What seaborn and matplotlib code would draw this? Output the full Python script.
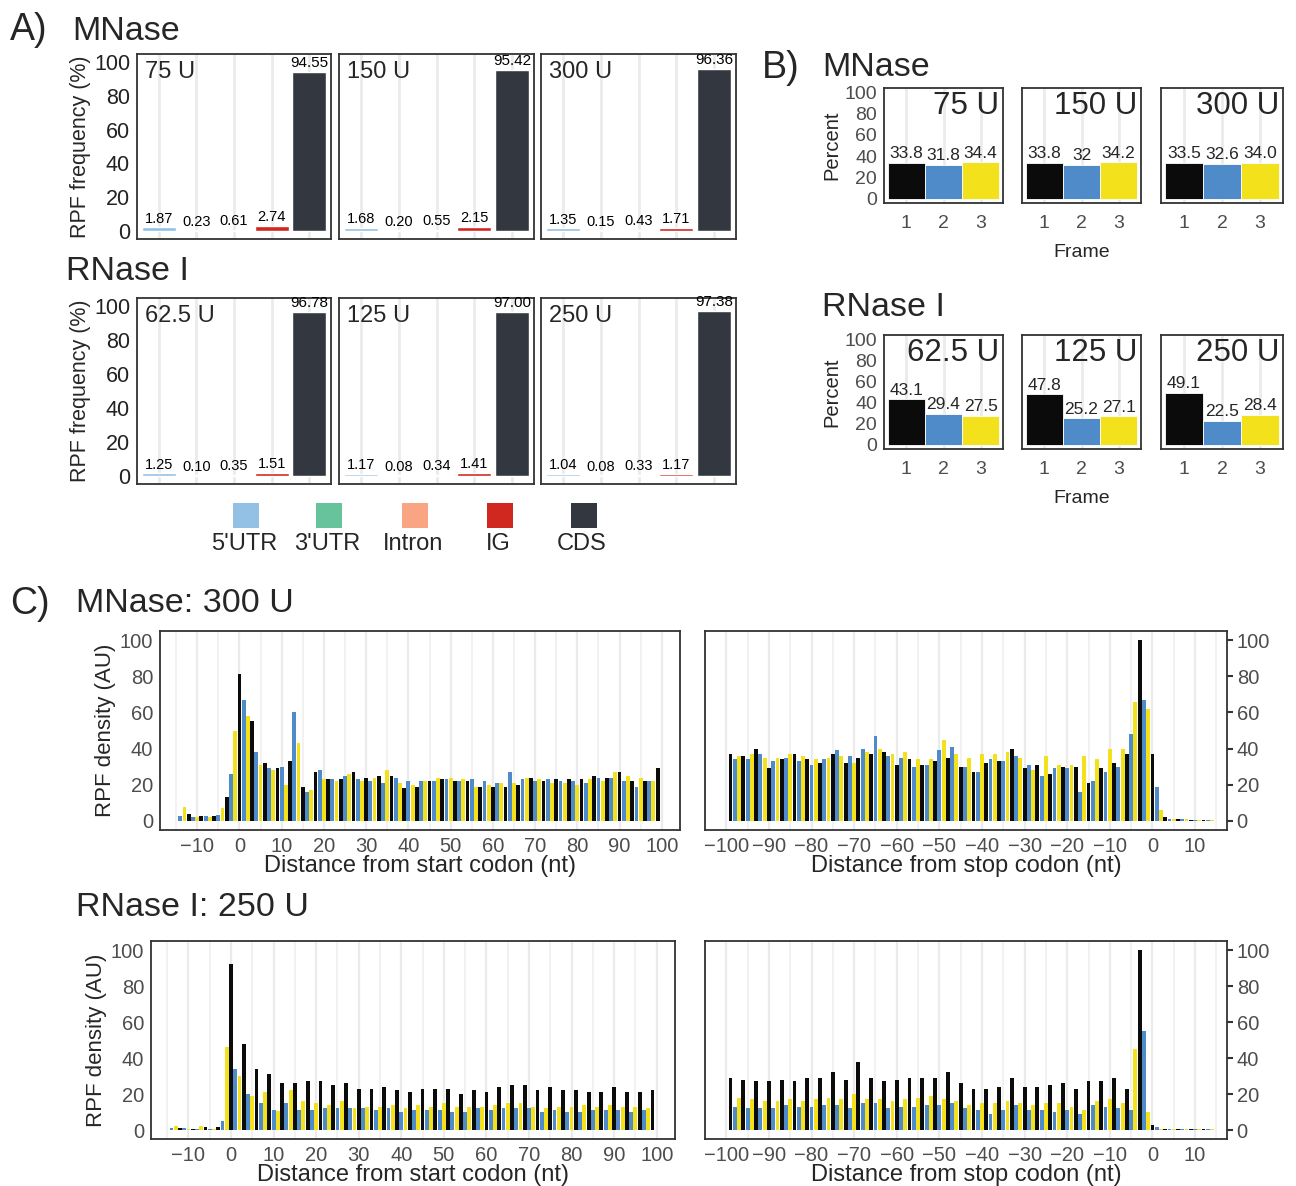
import seaborn as sns
import matplotlib.pyplot as plt
import numpy as np

sns.set_theme(style='white')
plt.rcParams['font.family'] = ['Liberation Sans', 'DejaVu Sans']

W, H = 1296, 1186

# A) read distribution by region (%)
regions = ["5'UTR", "3'UTR", 'Intron', 'IG', 'CDS']
region_colors = ['#93c0e5', '#66c39b', '#f9a583', '#d0271f', '#333740']
mnase_units = ['75 U', '150 U', '300 U']
rnase_units = ['62.5 U', '125 U', '250 U']
mnase_region = [[1.87, 0.23, 0.61, 2.74, 94.55],
                [1.68, 0.20, 0.55, 2.15, 95.42],
                [1.35, 0.15, 0.43, 1.71, 96.36]]
rnase_region = [[1.25, 0.10, 0.35, 1.51, 96.78],
                [1.17, 0.08, 0.34, 1.41, 97.00],
                [1.04, 0.08, 0.33, 1.17, 97.38]]

# B) frame distribution (%)
frames = ['1', '2', '3']
frame_colors = ['#0b0b0b', '#4f8bc8', '#f2e11b']
mnase_frame = [['33.8', '31.8', '34.4'], ['33.8', '32', '34.2'], ['33.5', '32.6', '34.0']]
rnase_frame = [['43.1', '29.4', '27.5'], ['47.8', '25.2', '27.1'], ['49.1', '22.5', '28.4']]

# C) metagene density, start: -14..99, stop: -99..14
start_first, stop_first = -14, -99
mnase_start = [2.5, 7.5, 4, 2, 2, 3, 3, 2, 3, 3.5, 7, 13, 26, 50,
               81, 67, 58, 55, 38, 31, 32, 29, 28, 29, 30, 20, 33, 60, 43, 19, 16, 17, 27, 28,
               23, 23, 23, 22, 23, 25, 26, 27, 23, 22, 24, 22, 24, 25, 21, 28, 25, 24, 21, 18,
               22, 20, 19, 22, 22, 22, 22, 24, 23, 23, 24, 22, 22, 23, 22, 23, 19, 19, 22, 20,
               19, 21, 21, 19, 27, 21, 20, 23, 24, 24, 22, 23, 22, 23, 21, 23, 22, 21, 23, 22,
               20, 23, 21, 23, 25, 24, 22, 24, 24, 27, 27, 22, 25, 22, 19, 24, 22, 22, 22, 29]
mnase_stop = [37, 34, 36, 36, 34, 37, 40, 37, 35, 29, 33, 35, 34, 35, 37, 37, 33, 36,
              34, 31, 34, 32, 34, 35, 37, 39, 36, 32, 36, 32, 35, 40, 38, 37, 47, 40,
              38, 36, 37, 31, 35, 38, 34, 30, 34, 31, 31, 34, 33, 39, 45, 35, 41, 37,
              30, 30, 35, 27, 27, 37, 32, 34, 37, 33, 33, 38, 40, 36, 35, 29, 31, 28,
              31, 25, 36, 26, 29, 31, 30, 29, 31, 30, 16, 36, 21, 22, 34, 29, 27, 40,
              32, 30, 40, 37, 48, 66, 100, 67, 62, 37, 19, 6,
              2, 1, 1, 1, 1, 1, 0.5, 0.5, 0.5, 0.5, 0.5, 0.8]
rnase_start = [1, 2.5, 1, 1, 0.5, 0.5, 0.5, 2.5, 1.5, 0.5, 0.5, 1.5, 5, 46,
               92, 34, 30, 48, 20, 19, 34, 15, 21, 31, 11, 10.5, 26, 15, 22, 26, 11, 16,
               27, 11, 15, 27, 12, 14, 25, 12, 16, 26, 12, 12, 23, 12, 13, 23, 11, 13,
               24, 12, 14, 22, 10, 12, 21, 11, 14, 23, 11, 13, 23, 11, 15, 23, 10, 13,
               20, 10, 13, 22, 12, 13, 21, 11, 14, 24, 12, 15, 25, 12, 15, 25, 12, 13,
               22, 10, 12, 24, 11, 13, 22, 10, 13, 22, 10, 14, 21, 11, 13, 21, 11, 14,
               24, 11, 13, 21, 10, 13, 21, 11, 12, 22]
rnase_stop = [29, 13, 18, 28, 12, 17, 27, 12, 16, 27, 12, 16, 28, 14, 17, 27, 13, 16,
              29, 13, 17, 29, 14, 18, 32, 14, 17, 28, 12, 20, 38, 15, 17, 29, 15, 17,
              27, 12, 16, 28, 13, 17, 29, 13, 18, 29, 14, 19, 29, 14, 17, 32, 15, 16,
              26, 12, 14, 23, 11, 15, 23, 9, 15, 24, 11, 16, 29, 14, 15, 24, 11, 14,
              24, 11, 15, 25, 10, 15, 26, 11, 13, 23, 9, 11, 27, 14, 16, 27, 13, 17,
              29, 12, 15, 23, 11, 45, 100, 55, 10, 3, 1.5, 0.8,
              0.5, 0.5, 0.5, 0.5, 0.5, 0.5, 0.5, 0.5, 0.5, 0.5, 0.5, 0.5]

TICK = '#333333'
SPINE = '#333333'


def box(x0, y0, x1, y1):
    return [x0 / W, 1 - y1 / H, (x1 - x0) / W, (y1 - y0) / H]


def ftext(x, y, s, size, **kw):
    fig.text(x / W, 1 - y / H, s, fontsize=size, va='center', **kw)


def style(ax, labelcolor=TICK):
    for sp in ax.spines.values():
        sp.set_color(SPINE)
        sp.set_linewidth(1.3)
    ax.tick_params(length=4, width=1.5, color=TICK, labelcolor=labelcolor, pad=1)
    ax.set_axisbelow(True)
    ax.set_xlabel('')
    ax.set_ylabel('')


fig = plt.figure(figsize=(W / 100, H / 100), dpi=100)

# ---------- A ----------
a_x = [(137, 331), (339, 534), (541, 736)]
for row, (data, units, (y0, y1)) in enumerate([(mnase_region, mnase_units, (54, 239)),
                                                (rnase_region, rnase_units, (298, 484))]):
    for i in range(3):
        ax = fig.add_axes(box(a_x[i][0], y0, a_x[i][1], y1))
        sns.barplot(x=regions, y=data[i], hue=regions, palette=region_colors, order=regions,
                    hue_order=regions, width=0.9, saturation=1, legend=False, ax=ax)
        for j, v in enumerate(data[i]):
            ax.text(j, v + 1.0, f'{v:.2f}', ha='center', va='bottom',
                    fontsize=11 if j == 4 else 10.5, color='black')
        ax.set_xlim(-0.58, 4.58)
        ax.set_ylim(-5, 105)
        ax.set_yticks([0, 20, 40, 60, 80, 100])
        ax.xaxis.grid(True, color='#ebebeb', lw=2)
        ax.set_xticklabels([])
        style(ax, labelcolor='#222222')
        ax.tick_params(axis='y', labelsize=15.5)
        if i > 0:
            ax.set_yticklabels([])
        else:
            ax.set_ylabel('RPF frequency (%)', fontsize=15.5, labelpad=2)
        ax.text(0.04, 0.96, units[i], transform=ax.transAxes, ha='left', va='top', fontsize=17)

# legend for A
leg_x = [246, 329, 415, 500, 584]
for lx, name, col in zip(leg_x, regions, region_colors):
    lax = fig.add_axes(box(lx - 13, 503, lx + 13, 528))
    lax.axis('off')
    lax.add_patch(plt.Rectangle((0, 0), 1, 1, color=col, transform=lax.transAxes))
    ftext(lx - 2, 544, name, 17, ha='center')

ftext(10, 30, 'A)', 27)
ftext(72, 32, 'MNase', 24.5)
ftext(66, 272, 'RNase I', 24.5)

# ---------- B ----------
b_x = [(884, 1003), (1022, 1141), (1161, 1283)]
for data, units, (y0, y1), title_y in [(mnase_frame, mnase_units, (88, 203), 68),
                                       (rnase_frame, rnase_units, (335, 449), 308)]:
    for i in range(3):
        vals = [float(s) for s in data[i]]
        ax = fig.add_axes(box(b_x[i][0], y0, b_x[i][1], y1))
        sns.barplot(x=frames, y=vals, hue=frames, palette=frame_colors, width=1.0,
                    saturation=1, legend=False, linewidth=0.6, ax=ax)
        for j, s in enumerate(data[i]):
            ax.text(j, vals[j] + 1.5, s, ha='center', va='bottom', fontsize=12.5)
        ax.set_xlim(-0.6, 2.6)
        ax.set_ylim(-4, 104)
        ax.set_yticks([0, 20, 40, 60, 80, 100])
        ax.xaxis.grid(True, color='#ebebeb', lw=2)
        style(ax, labelcolor='#4d4d4d')
        ax.tick_params(labelsize=14)
        ax.tick_params(axis='x', pad=5)
        if i > 0:
            ax.set_yticklabels([])
        else:
            ax.set_ylabel('Percent', fontsize=14.5, labelpad=2)
        if i == 1:
            ax.set_xlabel('Frame', fontsize=14, labelpad=8)
        ax.text(0.97, 0.97, units[i], transform=ax.transAxes, ha='right', va='top', fontsize=22.5)
    ftext(822, title_y, 'MNase' if title_y < 100 else 'RNase I', 24.5)
ftext(762, 68, 'B)', 27)


# ---------- C ----------
def meta(ax, first, vals, right):
    pos = np.arange(first, first + len(vals))
    frame = [str(p % 3) for p in pos]
    sns.barplot(x=pos, y=vals, hue=frame, hue_order=['0', '1', '2'], palette=frame_colors,
                native_scale=True, dodge=False, width=0.9, saturation=1, legend=False,
                errorbar=None, linewidth=0, ax=ax)
    ax.set_ylim(-5, 105)
    ax.set_yticks([0, 20, 40, 60, 80, 100])
    if right:
        ax.set_xlim(-104.5, 17.5)
        ax.set_xticks(np.arange(-100, 11, 10))
        ax.set_xticks(np.arange(-105, 16, 10), minor=True)
        ax.yaxis.tick_right()
    else:
        ax.set_xlim(-18.8, 104.3)
        ax.set_xticks(np.arange(-10, 101, 10))
        ax.set_xticks(np.arange(-15, 100, 10), minor=True)
    ax.xaxis.grid(True, which='major', color='#ebebeb', lw=1.6)
    ax.xaxis.grid(True, which='minor', color='#f0f0f0', lw=1.2)
    ax.tick_params(which='minor', length=0)
    style(ax, labelcolor='#4d4d4d')
    ax.tick_params(labelsize=14.5)
    if right:
        ax.tick_params(axis='y', pad=3)
    ax.set_xlabel('Distance from stop codon (nt)' if right else 'Distance from start codon (nt)',
                  fontsize=17, labelpad=-1)
    if not right:
        ax.set_ylabel('RPF density (AU)', fontsize=16, labelpad=3)


for (y0, y1), lx, start_vals, stop_vals, title, ty in [
        ((631, 830), (160, 680), mnase_start, mnase_stop, 'MNase: 300 U', 604),
        ((941, 1139), (151, 675), rnase_start, rnase_stop, 'RNase I: 250 U', 908)]:
    axl = fig.add_axes(box(lx[0], y0, lx[1], y1))
    meta(axl, start_first, start_vals, False)
    axr = fig.add_axes(box(705, y0, 1227, y1))
    meta(axr, stop_first, stop_vals, True)
    ftext(76, ty, title, 24.5)
ftext(10, 604, 'C)', 27)

fig.savefig('out.png', dpi=100)
